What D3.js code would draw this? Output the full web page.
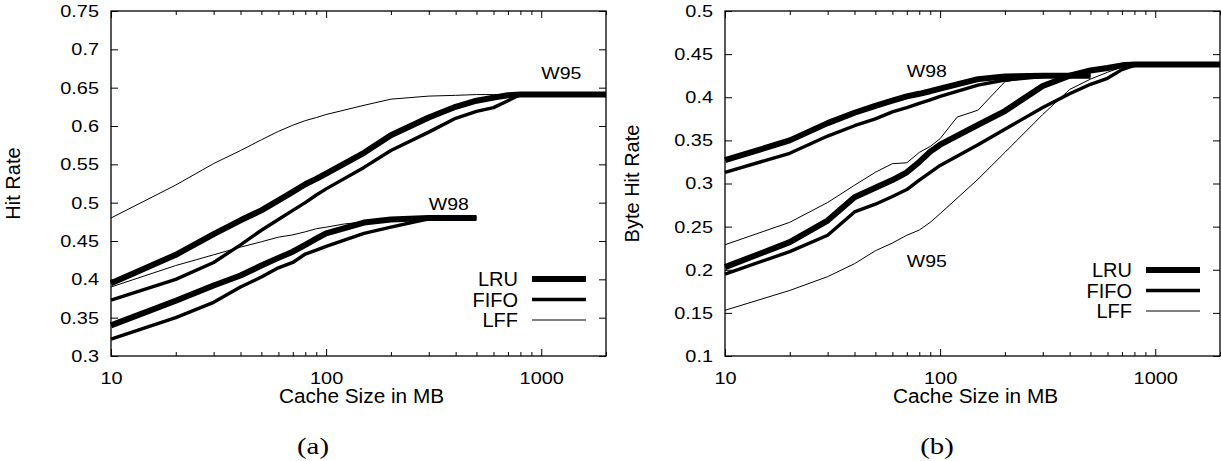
<!DOCTYPE html>
<html>
<head>
<meta charset="utf-8">
<script src="https://cdn.jsdelivr.net/npm/d3@7"></script>
<style>
  body { margin: 0; background: #fff; }
  svg { display: block; }
  text { font-family: "Liberation Sans", Arial, sans-serif; fill: #000; }
  .caption { font-family: "Liberation Serif", "DejaVu Serif", serif; }
</style>
</head>
<body>
<svg id="chart" width="1221" height="461"></svg>
<script>
// cache sizes in MB
const sizes = [10, 20, 30, 40, 50, 60, 70, 80, 90, 100, 150, 200, 300, 400, 500, 600, 700, 800, 900, 1000, 2000];
const sizesW98 = [10, 20, 30, 40, 50, 60, 70, 80, 90, 100, 150, 200, 300, 400, 500];
const sizesW98Lff = [10, 20, 30, 40, 50, 60, 70, 80, 90, 100, 120, 150, 200, 300, 400, 500];

// (a) hit rate
const hitW95Lru  = [0.395, 0.432, 0.459, 0.477, 0.490, 0.503, 0.514, 0.524, 0.531, 0.538, 0.565, 0.588, 0.611, 0.625, 0.633, 0.637, 0.640, 0.641, 0.641, 0.641, 0.641];
const hitW95Fifo = [0.373, 0.400, 0.422, 0.445, 0.464, 0.478, 0.490, 0.500, 0.510, 0.518, 0.546, 0.568, 0.592, 0.610, 0.619, 0.624, 0.633, 0.641, 0.641, 0.641, 0.641];
const hitW95Lff  = [0.480, 0.523, 0.551, 0.568, 0.582, 0.593, 0.601, 0.607, 0.611, 0.615, 0.627, 0.635, 0.639, 0.640, 0.641, 0.641, 0.641, 0.641, 0.641, 0.641, 0.641];
const hitW98Lru  = [0.340, 0.372, 0.392, 0.405, 0.418, 0.428, 0.436, 0.445, 0.453, 0.460, 0.474, 0.478, 0.480, 0.480, 0.480];
const hitW98Fifo = [0.322, 0.350, 0.370, 0.390, 0.403, 0.415, 0.422, 0.433, 0.438, 0.443, 0.460, 0.468, 0.479, 0.480, 0.480];
const hitW98Lff  = [0.390, 0.418, 0.432, 0.442, 0.449, 0.455, 0.458, 0.462, 0.466, 0.468, 0.472, 0.475, 0.478, 0.480, 0.480, 0.480];

// (b) byte hit rate
const byteW95Lru  = [0.203, 0.232, 0.257, 0.284, 0.295, 0.304, 0.313, 0.325, 0.337, 0.345, 0.368, 0.384, 0.413, 0.425, 0.431, 0.434, 0.437, 0.438, 0.438, 0.438, 0.438];
const byteW95Fifo = [0.195, 0.221, 0.240, 0.267, 0.276, 0.285, 0.293, 0.304, 0.313, 0.321, 0.345, 0.363, 0.388, 0.404, 0.415, 0.422, 0.432, 0.437, 0.438, 0.438, 0.438];
const byteW95Lff  = [0.153, 0.176, 0.192, 0.207, 0.222, 0.231, 0.240, 0.246, 0.255, 0.265, 0.305, 0.336, 0.380, 0.409, 0.421, 0.429, 0.435, 0.438, 0.438, 0.438, 0.438];
const byteW98Lru  = [0.327, 0.350, 0.370, 0.382, 0.390, 0.396, 0.401, 0.404, 0.407, 0.410, 0.421, 0.424, 0.425, 0.425, 0.425];
const byteW98Fifo = [0.313, 0.335, 0.355, 0.367, 0.375, 0.383, 0.388, 0.393, 0.397, 0.401, 0.414, 0.420, 0.424, 0.425, 0.425];
const byteW98Lff  = [0.229, 0.255, 0.278, 0.298, 0.313, 0.323, 0.324, 0.336, 0.343, 0.352, 0.377, 0.385, 0.418, 0.425, 0.425, 0.425];

const policies = ['LRU', 'FIFO', 'LFF'];
const widths = {LRU: 6, FIFO: 3.4, LFF: 1};

const svg = d3.select('#chart');

// stretched text helper, the original glyphs are wider than they are tall
function stretchText(sel, sx) {
  sel.each(function() {
    let t = d3.select(this);
    let x = +t.attr('x') || 0;
    t.attr('x', x / sx).attr('transform', `scale(${sx},1)`);
  });
}

function drawPanel(opts) {
  let w = 495, h = 345;
  let g = svg.append('g').attr('transform', `translate(${opts.left},11)`);

  let x = d3.scaleLog().domain([10, 2000]).range([0, w]);
  let y = d3.scaleLinear().domain(opts.yDomain).range([h, 0]);

  let major = [10, 100, 1000];
  let minor = x.ticks().filter(v => major.indexOf(v) < 0);
  let yTicks = d3.range(opts.yDomain[0], opts.yDomain[1] + 0.001, 0.05);
  let fmt = d3.format('.2~f');

  // axes, ticks pointing inward on all four sides
  let bottom = g.append('g').attr('class', 'axis')
                .attr('transform', `translate(0,${h})`)
                .call(d3.axisBottom(x).tickValues(major).tickFormat(d3.format('d'))
                        .tickSizeInner(-7).tickSizeOuter(0).tickPadding(16));
  g.append('g').attr('transform', `translate(0,${h})`)
   .call(d3.axisBottom(x).tickValues(minor).tickFormat('').tickSizeInner(-4).tickSizeOuter(0));
  g.append('g')
   .call(d3.axisTop(x).tickValues(major).tickFormat('').tickSizeInner(-7).tickSizeOuter(0));
  g.append('g')
   .call(d3.axisTop(x).tickValues(minor).tickFormat('').tickSizeInner(-4).tickSizeOuter(0));

  let left = g.append('g').attr('class', 'axis')
              .call(d3.axisLeft(y).tickValues(yTicks).tickFormat(fmt)
                      .tickSizeInner(-7).tickSizeOuter(0).tickPadding(12));
  g.append('g').attr('transform', `translate(${w},0)`)
   .call(d3.axisRight(y).tickValues(yTicks).tickFormat('').tickSizeInner(-7).tickSizeOuter(0));

  g.selectAll('.domain').remove();
  g.selectAll('.tick line').attr('stroke', '#000').attr('stroke-width', 1);
  g.selectAll('.axis text').attr('font-family', null).style('font-size', '17px');
  stretchText(bottom.selectAll('text'), 1.17);
  stretchText(left.selectAll('text'), 1.17);

  // frame
  g.append('rect')
   .attr('width', w).attr('height', h)
   .attr('fill', 'none').attr('stroke', '#000').attr('stroke-width', 1.3);

  // titles
  g.append('text')
   .attr('transform', `translate(${w / 2 + 3},${h + 47}) scale(1.04,1)`)
   .attr('text-anchor', 'middle').style('font-size', '20px')
   .text('Cache Size in MB');
  g.append('text')
   .attr('transform', `translate(${opts.yTitleX},${h / 2}) rotate(-90)`)
   .attr('text-anchor', 'middle').style('font-size', '20px')
   .text(opts.yTitle);

  // series
  let line = d3.line()
               .x(d => x(d[0]))
               .y(d => y(d[1]));
  let plot = g.append('g').attr('class', 'plot');
  opts.series.forEach(s => {
    plot.append('path')
        .datum(d3.zip(s.sizes, s.values))
        .attr('fill', 'none')
        .attr('stroke', '#000')
        .attr('stroke-width', widths[s.policy])
        .attr('stroke-linejoin', 'round')
        .attr('d', line);
  });

  // workload labels
  opts.labels.forEach(l => {
    plot.append('text')
        .attr('transform', `translate(${x(l.at[0])},${y(l.at[1])}) scale(1.22,1)`)
        .attr('dy', '0.35em')
        .style('font-size', '16px')
        .text(l.text);
  });

  // legend
  let key = g.append('g').attr('transform', `translate(${opts.keyX},${opts.keyY})`);
  policies.forEach((p, i) => {
    key.append('text')
       .attr('x', 0).attr('y', i * 20.5)
       .attr('dy', '0.35em')
       .attr('text-anchor', 'end')
       .style('font-size', '20px')
       .text(p);
    key.append('line')
       .attr('x1', 14).attr('x2', 68)
       .attr('y1', i * 20.5).attr('y2', i * 20.5)
       .attr('stroke', '#000')
       .attr('stroke-width', widths[p]);
  });

  // caption
  svg.append('text')
     .attr('class', 'caption')
     .attr('transform', `translate(${opts.left + opts.captionX},454) scale(1.2,1)`)
     .attr('text-anchor', 'middle')
     .style('font-size', '24px')
     .text(opts.caption);
}

drawPanel({
  left: 111,
  yDomain: [0.3, 0.75],
  yTitle: 'Hit Rate',
  yTitleX: -91,
  keyX: 407, keyY: 268,
  captionX: 202,
  caption: '(a)',
  labels: [
    {text: 'W95', at: [1000, 0.668]},
    {text: 'W98', at: [300, 0.498]}
  ],
  series: [
    {policy: 'LRU',  sizes: sizes,    values: hitW95Lru},
    {policy: 'FIFO', sizes: sizes,    values: hitW95Fifo},
    {policy: 'LFF',  sizes: sizes,    values: hitW95Lff},
    {policy: 'LRU',  sizes: sizesW98, values: hitW98Lru},
    {policy: 'FIFO', sizes: sizesW98, values: hitW98Fifo},
    {policy: 'LFF',  sizes: sizesW98Lff, values: hitW98Lff}
  ]
});

drawPanel({
  left: 725,
  yDomain: [0.1, 0.5],
  yTitle: 'Byte Hit Rate',
  yTitleX: -86,
  keyX: 407, keyY: 259,
  captionX: 212,
  caption: '(b)',
  labels: [
    {text: 'W98', at: [70, 0.43]},
    {text: 'W95', at: [70, 0.21]}
  ],
  series: [
    {policy: 'LRU',  sizes: sizes,    values: byteW95Lru},
    {policy: 'FIFO', sizes: sizes,    values: byteW95Fifo},
    {policy: 'LFF',  sizes: sizes,    values: byteW95Lff},
    {policy: 'LRU',  sizes: sizesW98, values: byteW98Lru},
    {policy: 'FIFO', sizes: sizesW98, values: byteW98Fifo},
    {policy: 'LFF',  sizes: sizesW98Lff, values: byteW98Lff}
  ]
});
</script>
</body>
</html>
